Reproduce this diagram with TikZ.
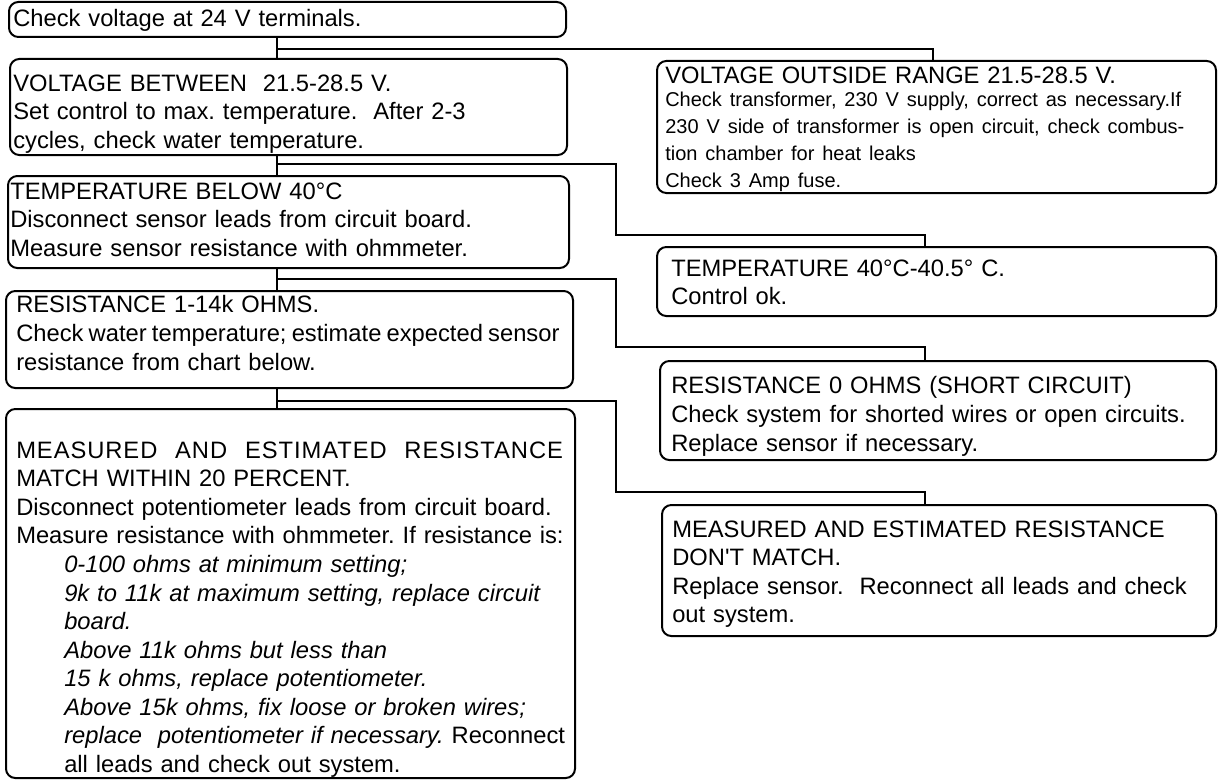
\documentclass[tikz,border=0pt]{standalone}
\usepackage{fontspec}
\setmainfont{Liberation Sans}
\usetikzlibrary{calc}
\frenchspacing
\newcommand\fbx[5]{\node[bx, minimum width={(#4-#2)*0.75pt}, minimum height={(#5-#3)*0.75pt}] (#1) at ({(#2+#4)/2},{(#3+#5)/2}) {};}
\newcommand\sq{{\addfontfeatures{Ligatures=TeXOff}'}}
\begin{document}
\begin{tikzpicture}[x=0.75pt,y=-0.75pt,
  bx/.style={draw, line width=1.5pt, rounded corners=7pt, inner sep=0pt},
  ln/.style={line width=1.5pt},
  tx/.style={inner sep=0pt, text width=600pt, font=\frenchspacing\fontsize{17.8pt}{21.4pt}\selectfont}]
\useasboundingbox (0,0) rectangle (1219,781);

% boxes
\fbx{A}{9}{2}{566}{37}
\fbx{B}{10}{59}{567}{155}
\fbx{D}{657}{61}{1216}{193}
\fbx{C}{8}{176}{569}{268}
\fbx{E}{657}{247}{1216}{316}
\fbx{F}{6}{291}{573}{388}
\fbx{G}{660}{361}{1216}{460}
\fbx{H}{6}{409}{575}{778}
\fbx{I}{662}{505}{1216}{636}

% texts
\node[tx, anchor=west] (tA) at ($(A.west)+(5,1)$) {Check voltage at 24 V terminals.};
\node[tx, anchor=north west] (tB) at ($(B.north west)+(4,16.5)$) {VOLTAGE BETWEEN\ \ 21.5-28.5 V.\\
Set control to max. temperature.\ \ After 2-3\\
cycles, check water temperature.};
\node[tx, anchor=north west] (tD) at ($(D.north west)+(9,6.5)$) {VOLTAGE OUTSIDE RANGE 21.5-28.5 V.\par\vspace{-2.5pt}
{\fontsize{15pt}{20.1pt}\selectfont
\makebox[407pt][s]{Check transformer, 230 V supply, correct as necessary.If}\\
\makebox[407pt][s]{230 V side of transformer is open circuit, check combus-}\\
tion chamber for heat leaks\\
Check 3 Amp fuse.\par}};
\node[tx, anchor=north west] (tC) at ($(C.north west)+(3,7.5)$) {TEMPERATURE BELOW 40°C\\
Disconnect sensor leads from circuit board.\\
Measure sensor resistance with ohmmeter.};
\node[tx, anchor=north west] (tE) at ($(E.north west)+(15,13.5)$) {TEMPERATURE 40°C-40.5° C.\\
Control ok.};
\node[tx, anchor=north west] (tF) at ($(F.north west)+(11,5.5)$) {RESISTANCE 1-14k OHMS.\\
{\spaceskip=0.22em Check water temperature; estimate expected sensor}\\
resistance from chart below.};
\node[tx, anchor=north west] (tG) at ($(G.north west)+(12,16.5)$) {RESISTANCE 0 OHMS (SHORT CIRCUIT)\\
Check system for shorted wires or open circuits.\\
Replace sensor if necessary.};
\node[tx, anchor=north west] (tH) at ($(H.north west)+(11,33.5)$) {\makebox[410pt][s]{\addfontfeature{LetterSpace=4}MEASURED\hfill AND\hfill ESTIMATED\hfill RESISTANCE}\\
MATCH WITHIN 20 PERCENT.\\
Disconnect potentiometer leads from circuit board.\\
Measure resistance with ohmmeter. If resistance is:\\
\hspace*{36pt}\textit{0-100 ohms at minimum setting;}\\
\hspace*{36pt}\textit{9k to 11k at maximum setting, replace circuit}\\
\hspace*{36pt}\textit{board.}\\
\hspace*{36pt}\textit{Above 11k ohms but less than}\\
\hspace*{36pt}\textit{15 k ohms, replace potentiometer.}\\
\hspace*{36pt}\textit{Above 15k ohms, fix loose or broken wires;}\\
\hspace*{36pt}\textit{replace\ \ potentiometer if necessary.} Reconnect\\
\hspace*{36pt}all leads and check out system.};
\node[tx, anchor=north west] (tI) at ($(I.north west)+(11,16.5)$) {MEASURED AND ESTIMATED RESISTANCE\\
DON\sq T MATCH.\\
Replace sensor.\ \ Reconnect all leads and check\\
out system.};

% connectors
\coordinate (xD) at (933,0);
\coordinate (xR) at (925,0);
\coordinate (s1) at (277,49);
\coordinate (s2) at (277,164);
\coordinate (s3) at (277,279);
\coordinate (s4) at (277,401);
\coordinate (m2) at (616,235);
\coordinate (m3) at (616,347);
\coordinate (m4) at (616,492);

\draw[ln] (s1 |- A.south) -- (s1 |- B.north);
\draw[ln] (s1) -| (xD |- D.north);
\draw[ln] (s2 |- B.south) -- (s2 |- C.north);
\draw[ln] (s2) -| (m2) -| (xR |- E.north);
\draw[ln] (s3 |- C.south) -- (s3 |- F.north);
\draw[ln] (s3) -| (m3) -| (xR |- G.north);
\draw[ln] (s4 |- F.south) -- (s4 |- H.north);
\draw[ln] (s4) -| (m4) -| (xR |- I.north);
\end{tikzpicture}
\end{document}
